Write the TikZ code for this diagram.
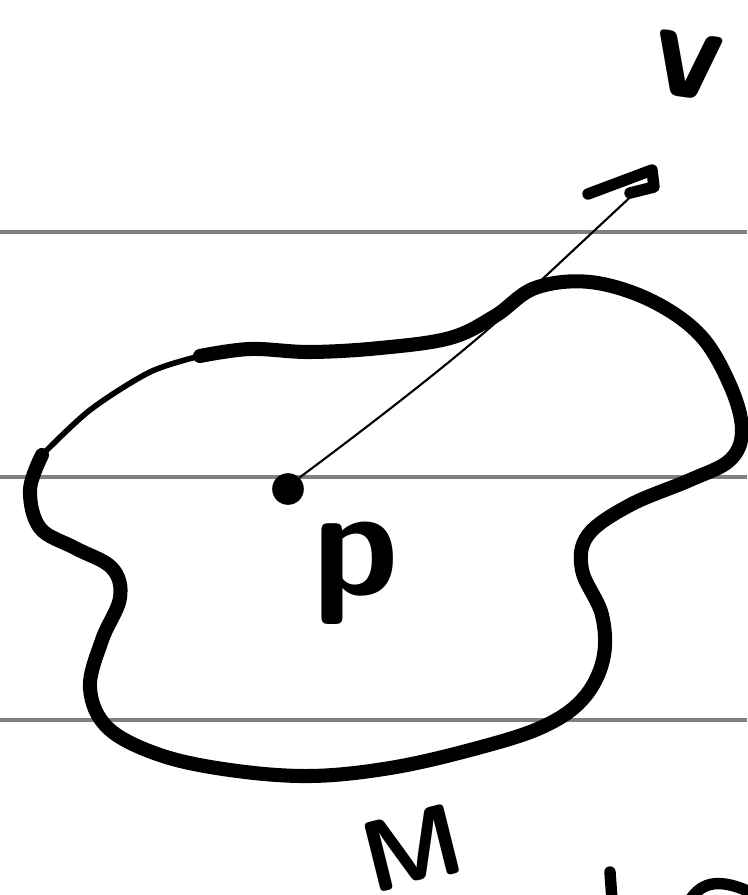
\documentclass[tikz,border=0pt]{standalone}
\usepackage{tikz}
\usetikzlibrary{calc,positioning}
\definecolor{RuleGray}{HTML}{808080}
\tikzset{
  regla/.style={draw=RuleGray, line width=2.1pt},
  borde/.style={draw=black, line width=8pt, line cap=round, line join=round},
  bordefino/.style={draw=black, line width=3.2pt, line cap=round},
  trazo/.style={draw=black, line width=6.5pt, line cap=round, line join=round},
  vector/.style={draw=black, line width=1.2pt},
  letra/.style={font=\fontsize{80pt}{80pt}\selectfont\sffamily\bfseries, inner sep=0pt},
  punto/.style={circle, fill=black, minimum size=18pt, inner sep=0pt},
}

\begin{document}
\begin{tikzpicture}[x=0.02cm, y=-0.02cm]
    \useasboundingbox (0,0) rectangle (747,895);
    % renglones
    \draw[regla] (0,232) -- (747,232);
    \draw[regla] (0,477) -- (747,477);
    \draw[regla] (0,720) -- (747,720);
    % la region
    \draw[bordefino] plot[smooth] coordinates {(42,455) (90,410) (150,372) (200,356)};
    \draw[borde] plot[smooth, tension=0.6] coordinates {(200,356) (250,349) (310,352) (380,348) (450,338) (495,316) (535,288)
      (590,282) (650,300) (700,335) (730,385) (742,430) (730,460) (690,480) (630,505) (588,535)
      (582,570) (602,615) (603,660) (582,700) (540,728) (470,750) (390,768) (310,776) (230,770)
      (160,755) (108,728) (90,688) (102,640) (120,598) (112,568) (75,548) (40,528) (30,490) (42,455)};
    % punto y vector
    \node[punto] (P) at (288,489) {};
    \coordinate (punta) at (640,188);
    \draw[vector] (P.north east) .. controls (330,455) and (470,350) .. (520,300) -- (punta);
    \draw[trazo] (588,194) -- (652,170) -- (654,187) -- (630,193);
    % etiquetas
    \node[letra, rotate=-8] (v) at (688,66) {v};
    \node[letra, font=\fontsize{88pt}{88pt}\selectfont\sffamily\bfseries] (p) at (356,573) {p};
    \node[letra, font=\fontsize{58pt}{58pt}\selectfont\sffamily\bfseries, rotate=14] (M) at (412,848) {M};
    % trazos cortados abajo
    \draw[trazo] (610,872) -- (612,900);
    \draw[trazo] (690,900) .. controls (700,885) and (715,876) .. (750,892);
\end{tikzpicture}
\end{document}
